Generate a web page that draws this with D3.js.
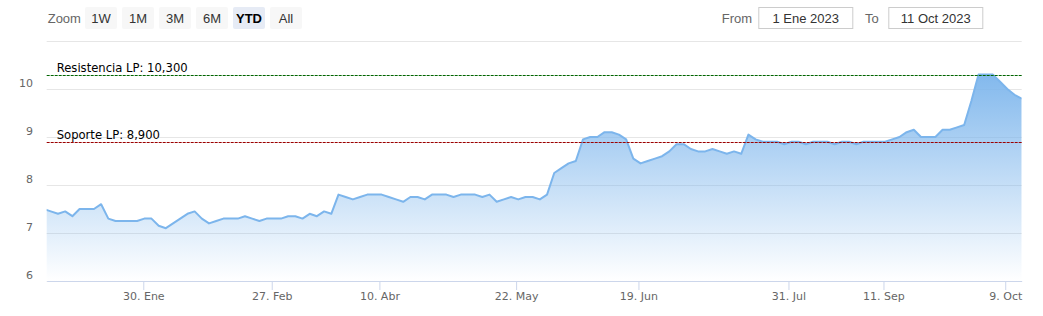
<!DOCTYPE html>
<html>
<head>
<meta charset="utf-8">
<script src="https://cdn.jsdelivr.net/npm/d3@7"></script>
<style>
  body { margin: 0; background: #fff; }
  svg { display: block; }
</style>
</head>
<body>
<script>
const width = 1043;
const height = 316;
const margin = { top: 41, right: 21.3, bottom: 35, left: 46.7 };

// closing prices, one per trading session (ordinal axis, so equal spacing)
const prices = [
  7.50, 7.45, 7.40, 7.45, 7.35, 7.50, 7.50, 7.50, 7.60, 7.30,
  7.25, 7.25, 7.25, 7.25, 7.30, 7.30, 7.15, 7.10, 7.20, 7.30,
  7.40, 7.45, 7.30, 7.20, 7.25, 7.30, 7.30, 7.30, 7.35, 7.30,
  7.25, 7.30, 7.30, 7.30, 7.35, 7.35, 7.30, 7.40, 7.35, 7.45,
  7.40, 7.80, 7.75, 7.70, 7.75, 7.80, 7.80, 7.80, 7.75, 7.70,
  7.65, 7.75, 7.75, 7.70, 7.80, 7.80, 7.80, 7.75, 7.80, 7.80,
  7.80, 7.75, 7.80, 7.65, 7.70, 7.75, 7.70, 7.75, 7.75, 7.70,
  7.80, 8.25, 8.35, 8.45, 8.50, 8.95, 9.00, 9.00, 9.10, 9.10,
  9.05, 8.95, 8.55, 8.45, 8.50, 8.55, 8.60, 8.70, 8.85, 8.85,
  8.75, 8.70, 8.70, 8.75, 8.70, 8.65, 8.70, 8.65, 9.05, 8.95,
  8.90, 8.90, 8.90, 8.85, 8.90, 8.90, 8.85, 8.90, 8.90, 8.90,
  8.85, 8.90, 8.90, 8.85, 8.90, 8.90, 8.90, 8.90, 8.95, 9.00,
  9.10, 9.15, 9.00, 9.00, 9.00, 9.15, 9.15, 9.20, 9.25, 9.75,
  10.30, 10.30, 10.30, 10.15, 10.00, 9.88, 9.80
];

// visible window in session units (first session is just left of the plot)
const xDomain = [0.43, prices.length - 1];

// date ticks fall between sessions on the ordinal axis
const tickPos = [13.86, 31.72, 46.69, 65.70, 82.71, 103.57, 116.78, 133.71];
const tickLabels = ["30. Ene", "27. Feb", "10. Abr", "22. May", "19. Jun", "31. Jul", "11. Sep", "9. Oct"];

const yTicks = [6, 7, 8, 9, 10, 11];

const levelNames = ["Resistencia LP: 10,300", "Soporte LP: 8,900"];
const levelValues = [10.3, 8.9];
const levelColors = ["#006400", "#9b0000"];

const rangeButtons = ["1W", "1M", "3M", "6M", "YTD", "All"];
const selectedRange = "YTD";
const fromDate = "1 Ene 2023";
const toDate = "11 Oct 2023";

const chartFont = "'DejaVu Sans', Verdana, sans-serif";
const uiFont = "'Liberation Sans', Arial, sans-serif";

const svg = d3.select("body").append("svg")
  .attr("width", width)
  .attr("height", height)
  .attr("viewBox", [0, 0, width, height]);

const x = d3.scaleLinear()
  .domain(xDomain)
  .range([margin.left, width - margin.right]);

const y = d3.scaleLinear()
  .domain([6, 11])
  .range([height - margin.bottom, margin.top]);

const plotW = width - margin.right - margin.left;

// gradient for the area
const defs = svg.append("defs");
const grad = defs.append("linearGradient")
  .attr("id", "areaFill")
  .attr("x1", 0).attr("y1", 0)
  .attr("x2", 0).attr("y2", 1);
grad.append("stop").attr("offset", "0%").attr("stop-color", "#7cb5ec").attr("stop-opacity", 0.95);
grad.append("stop").attr("offset", "100%").attr("stop-color", "#7cb5ec").attr("stop-opacity", 0);

defs.append("clipPath").attr("id", "plotClip")
  .append("rect")
  .attr("x", margin.left)
  .attr("y", 0)
  .attr("width", plotW)
  .attr("height", height - margin.bottom);

// y axis with grid lines
const yAxis = d3.axisLeft(y)
  .tickValues(yTicks)
  .tickSize(-plotW)
  .tickPadding(13.7)
  .tickFormat(d => d === 11 ? "" : d);

const yG = svg.append("g")
  .attr("transform", `translate(${margin.left},0)`)
  .call(yAxis);
yG.select(".domain").remove();
yG.selectAll(".tick line").attr("stroke", "#e6e6e6");
yG.selectAll(".tick text")
  .attr("fill", "#666")
  .attr("y", -6)
  .style("font-family", chartFont)
  .style("font-size", "11px");

// area + line
const area = d3.area()
  .x((d, i) => x(i))
  .y0(y(6))
  .y1(d => y(d));

const line = d3.line()
  .x((d, i) => x(i))
  .y(d => y(d));

const series = svg.append("g").attr("clip-path", "url(#plotClip)");
series.append("path")
  .datum(prices)
  .attr("d", area)
  .attr("fill", "url(#areaFill)");
series.append("path")
  .datum(prices)
  .attr("d", line)
  .attr("fill", "none")
  .attr("stroke", "#7cb5ec")
  .attr("stroke-width", 2)
  .attr("stroke-linejoin", "round");

// x axis
const xAxis = d3.axisBottom(x)
  .tickValues(tickPos)
  .tickFormat((d, i) => tickLabels[i])
  .tickSizeInner(9)
  .tickSizeOuter(0)
  .tickPadding(2);

const xG = svg.append("g")
  .attr("transform", `translate(0,${y(6)})`)
  .call(xAxis);
xG.select(".domain").attr("stroke", "#ccd6eb");
xG.selectAll(".tick line").attr("stroke", "#ccd6eb");
xG.selectAll(".tick text")
  .attr("fill", "#666")
  .style("font-family", chartFont)
  .style("font-size", "11px");

// support / resistance lines
levelValues.forEach((v, i) => {
  svg.append("line")
    .attr("x1", margin.left)
    .attr("x2", width - margin.right)
    .attr("y1", Math.round(y(v)) + 0.5)
    .attr("y2", Math.round(y(v)) + 0.5)
    .attr("stroke", levelColors[i])
    .attr("stroke-width", 1)
    .attr("stroke-dasharray", "3,1");
  svg.append("text")
    .attr("x", margin.left + 10)
    .attr("y", Math.round(y(v)) - 3)
    .attr("fill", "#000")
    .style("font-family", chartFont)
    .style("font-size", "11.6px")
    .text(levelNames[i]);
});

// range selector
const controls = svg.append("g");
controls.append("text")
  .attr("x", 47.7)
  .attr("y", 22.5)
  .attr("fill", "#666")
  .style("font-family", uiFont)
  .style("font-size", "13px")
  .text("Zoom");

const btn = controls.selectAll("g.btn")
  .data(rangeButtons)
  .enter()
  .append("g")
  .attr("class", "btn")
  .attr("transform", (d, i) => `translate(${85 + i * 37},7)`);

btn.append("rect")
  .attr("width", 32)
  .attr("height", 22)
  .attr("rx", 2)
  .attr("fill", d => d === selectedRange ? "#e6ebf5" : "#f7f7f7");

btn.append("text")
  .attr("x", 16)
  .attr("y", 15.5)
  .attr("text-anchor", "middle")
  .attr("fill", d => d === selectedRange ? "#000" : "#333")
  .style("font-weight", d => d === selectedRange ? "bold" : "normal")
  .style("font-family", uiFont)
  .style("font-size", "13px")
  .text(d => d);

// date inputs
const inputs = [
  { label: "From", lx: 721.7, bx: 758.3, value: fromDate },
  { label: "To", lx: 865, bx: 888.3, value: toDate }
];
inputs.forEach(inp => {
  controls.append("text")
    .attr("x", inp.lx)
    .attr("y", 22.5)
    .attr("fill", "#666")
    .style("font-family", uiFont)
    .style("font-size", "13px")
    .text(inp.label);
  controls.append("rect")
    .attr("x", inp.bx + 0.5)
    .attr("y", 7.5)
    .attr("width", 94)
    .attr("height", 21)
    .attr("fill", "#fff")
    .attr("stroke", "#ccc");
  controls.append("text")
    .attr("x", inp.bx + 47.5)
    .attr("y", 22.5)
    .attr("text-anchor", "middle")
    .attr("fill", "#333")
    .style("font-family", uiFont)
    .style("font-size", "13px")
    .text(inp.value);
});
</script>
</body>
</html>
